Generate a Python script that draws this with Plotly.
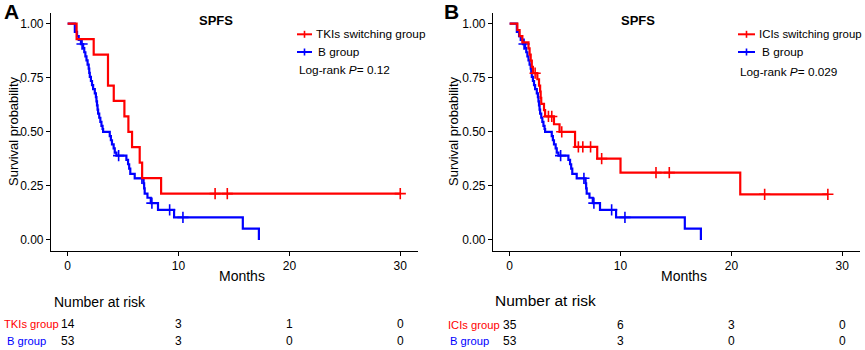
import plotly.graph_objects as go

W, H = 865, 350
FONT = "Arial, Liberation Sans, sans-serif"
RED = "#FF0000"
BLUE = "#0000FF"

# ---------------- data ----------------
# Panel A: TKIs switching group (step times, survival after each step)
tki_times = [0, 0.81, 2.35, 3.64, 4.16, 5.12, 5.48, 5.81, 6.5, 6.72, 8.43]
tki_surv = [1.0, 0.929, 0.857, 0.714, 0.643, 0.571, 0.5, 0.429, 0.357, 0.286, 0.214]
tki_end = 30.0
tki_censor = [13.3, 14.4, 30.0]

# Panel B: ICIs switching group
ici_times = [0, 0.7, 0.9, 1.15, 1.7, 1.8, 1.9, 2.0, 2.1, 2.5, 2.65, 2.75, 2.8, 2.85,
             3.1, 3.2, 4.0, 4.5, 5.9, 7.9, 10.0, 20.8]
ici_surv = [1.0, 0.971, 0.943, 0.914, 0.886, 0.857, 0.829, 0.800, 0.771, 0.743, 0.714,
            0.686, 0.657, 0.629, 0.600, 0.571, 0.535, 0.500, 0.430, 0.376, 0.311, 0.211]
ici_end = 28.7
ici_censor = [2.3, 3.5, 3.8, 4.7, 6.2, 6.6, 7.3, 8.3, 13.2, 14.4, 23.0, 28.7]

# B group (same in both panels)
bgrp_times = [0, 0.65, 0.85, 1.0, 1.2, 1.4, 1.5, 1.6, 1.7, 1.8, 1.9, 1.95, 2.0, 2.1, 2.2,
              2.3, 2.45, 2.55, 2.6, 2.65, 2.7, 2.75, 2.85, 2.95, 3.05, 3.15, 3.2, 3.8,
              3.9, 4.0, 4.15, 4.25, 4.4, 5.3, 5.45, 5.55, 5.65, 6.05, 6.85, 6.9, 6.95,
              7.2, 7.5, 8.15, 9.6, 15.8, 17.25]
bgrp_surv = [1.0, 0.962, 0.943, 0.925, 0.906, 0.887, 0.868, 0.849, 0.830, 0.811, 0.792,
             0.773, 0.754, 0.735, 0.716, 0.697, 0.678, 0.660, 0.641, 0.622, 0.603, 0.584,
             0.565, 0.546, 0.527, 0.513, 0.500, 0.480, 0.461, 0.442, 0.423, 0.404, 0.390,
             0.370, 0.350, 0.330, 0.305, 0.285, 0.262, 0.238, 0.214, 0.195, 0.170, 0.139,
             0.104, 0.052, 0.0]
bgrp_end = 17.25
bgrp_censor = [1.3, 4.6, 6.7, 7.6, 9.2, 10.4]

risk_times = [0, 10, 20, 30]
risk_tki = [14, 3, 1, 0]
risk_ici = [35, 6, 3, 0]
risk_b = [53, 3, 0, 0]

x_ticks = [0, 10, 20, 30]
y_ticks = [0, 0.25, 0.5, 0.75, 1.0]


# ---------------- helpers ----------------
def px(xp):
    return xp / W


def py(yp):
    return 1 - yp / H


def surv_at(t, times, surv):
    s = surv[0]
    for ti, si in zip(times, surv):
        if ti <= t:
            s = si
    return s


fig = go.Figure()


def add_group(times, surv, end, censor, color, xa, ya):
    xs = list(times) + [end]
    ys = list(surv) + [surv[-1]]
    fig.add_trace(go.Scatter(x=xs, y=ys, mode="lines", line=dict(color=color, width=2.2, shape="hv"),
                             xaxis=xa, yaxis=ya, showlegend=False, hoverinfo="skip"))
    cy = [surv_at(c, times, surv) for c in censor]
    fig.add_trace(go.Scatter(x=censor, y=cy, mode="markers",
                             marker=dict(symbol="cross-thin", size=8, line=dict(color=color, width=1.6)),
                             xaxis=xa, yaxis=ya, showlegend=False, hoverinfo="skip"))


add_group(bgrp_times, bgrp_surv, bgrp_end, bgrp_censor, BLUE, "x", "y")
add_group(tki_times, tki_surv, tki_end, tki_censor, RED, "x", "y")
add_group(bgrp_times, bgrp_surv, bgrp_end, bgrp_censor, BLUE, "x2", "y2")
add_group(ici_times, ici_surv, ici_end, ici_censor, RED, "x2", "y2")

ydom = [py(250.7), py(12.9)]
axis_common = dict(showline=True, linecolor="black", linewidth=1.2, ticks="outside",
                   ticklen=4, tickcolor="black", tickwidth=1.1, showgrid=False, zeroline=False,
                   tickfont=dict(family=FONT, size=12, color="black"))

fig.update_layout(
    width=W, height=H, margin=dict(l=0, r=0, t=0, b=0),
    paper_bgcolor="white", plot_bgcolor="white",
    font=dict(family=FONT, color="black"),
    xaxis=dict(domain=[px(51), px(418)], range=[-1.5, 31.6], tickvals=x_ticks, anchor="y", **axis_common),
    yaxis=dict(domain=ydom, range=[-0.05, 1.05], tickvals=y_ticks, tickformat=".2f", anchor="x", **axis_common),
    xaxis2=dict(domain=[px(493), px(860)], range=[-1.5, 31.6], tickvals=x_ticks, anchor="y2", **axis_common),
    yaxis2=dict(domain=ydom, range=[-0.05, 1.05], tickvals=y_ticks, tickformat=".2f", anchor="x2", **axis_common),
)

ann = []
shapes = []


def text(x, y, s, size=12, color="black", xanchor="center", bold=False, xref="paper", textangle=0):
    ann.append(dict(x=x, y=y, xref=xref, yref="paper", text=(f"<b>{s}</b>" if bold else s),
                    showarrow=False, xanchor=xanchor, yanchor="middle", textangle=textangle,
                    font=dict(family=FONT, size=size, color=color)))


# panel letters and titles
text(px(2), py(12), "A", size=21, bold=True, xanchor="left")
text(px(442), py(12), "B", size=21, bold=True, xanchor="left")
text(px(216), py(20), "SPFS", size=13, bold=True)
text(px(638), py(20), "SPFS", size=13, bold=True)

# axis titles
text(px(242), py(276), "Months", size=14)
text(px(684), py(276), "Months", size=14)
text(px(13), py(131), "Survival probability", size=13, textangle=-90)
text(px(453), py(131), "Survival probability", size=13, textangle=-90)


# legends
def legend_item(x0, x1, y, color):
    shapes.append(dict(type="line", xref="paper", yref="paper", x0=px(x0), x1=px(x1), y0=py(y), y1=py(y),
                       line=dict(color=color, width=2)))
    xc = (x0 + x1) / 2
    shapes.append(dict(type="line", xref="paper", yref="paper", x0=px(xc), x1=px(xc), y0=py(y - 3.5),
                       y1=py(y + 3.5), line=dict(color=color, width=1.6)))


legend_item(297, 312, 34.3, RED)
legend_item(297, 312, 52, BLUE)
text(px(313.5), py(34), "TKIs switching group", size=11.8, xanchor="left")
text(px(316), py(52), "B group", size=11.8, xanchor="left")
text(px(297), py(70.5), "Log-rank <i>P</i>= 0.12", size=11.8, xanchor="left")

legend_item(738, 755, 34.3, RED)
legend_item(738, 755, 52, BLUE)
text(px(757), py(34), "ICIs switching group", size=11.4, xanchor="left")
text(px(760), py(52), "B group", size=11.8, xanchor="left")
text(px(738), py(71.5), "Log-rank <i>P</i>= 0.029", size=11.8, xanchor="left")

# risk tables
text(px(52), py(302), "Number at risk", size=14, xanchor="left")
text(px(493), py(300), "Number at risk", size=15.5, xanchor="left")
text(px(2), py(324), "TKIs group", size=11.2, color=RED, xanchor="left")
text(px(5), py(340.5), "B group", size=11.2, color=BLUE, xanchor="left")
text(px(446), py(325), "ICIs group", size=11.2, color=RED, xanchor="left")
text(px(448), py(340.5), "B group", size=11.2, color=BLUE, xanchor="left")

for t, a, b in zip(risk_times, risk_tki, risk_b):
    text(t, py(324), str(a), size=12, xref="x")
    text(t, py(340.5), str(b), size=12, xref="x")
for t, a, b in zip(risk_times, risk_ici, risk_b):
    text(t, py(325), str(a), size=12, xref="x2")
    text(t, py(340.5), str(b), size=12, xref="x2")

fig.update_layout(annotations=ann, shapes=shapes)

fig.write_html("out.html", config={"displayModeBar": False},
               post_script="document.body.style.margin='0';document.body.style.overflow='hidden';")
